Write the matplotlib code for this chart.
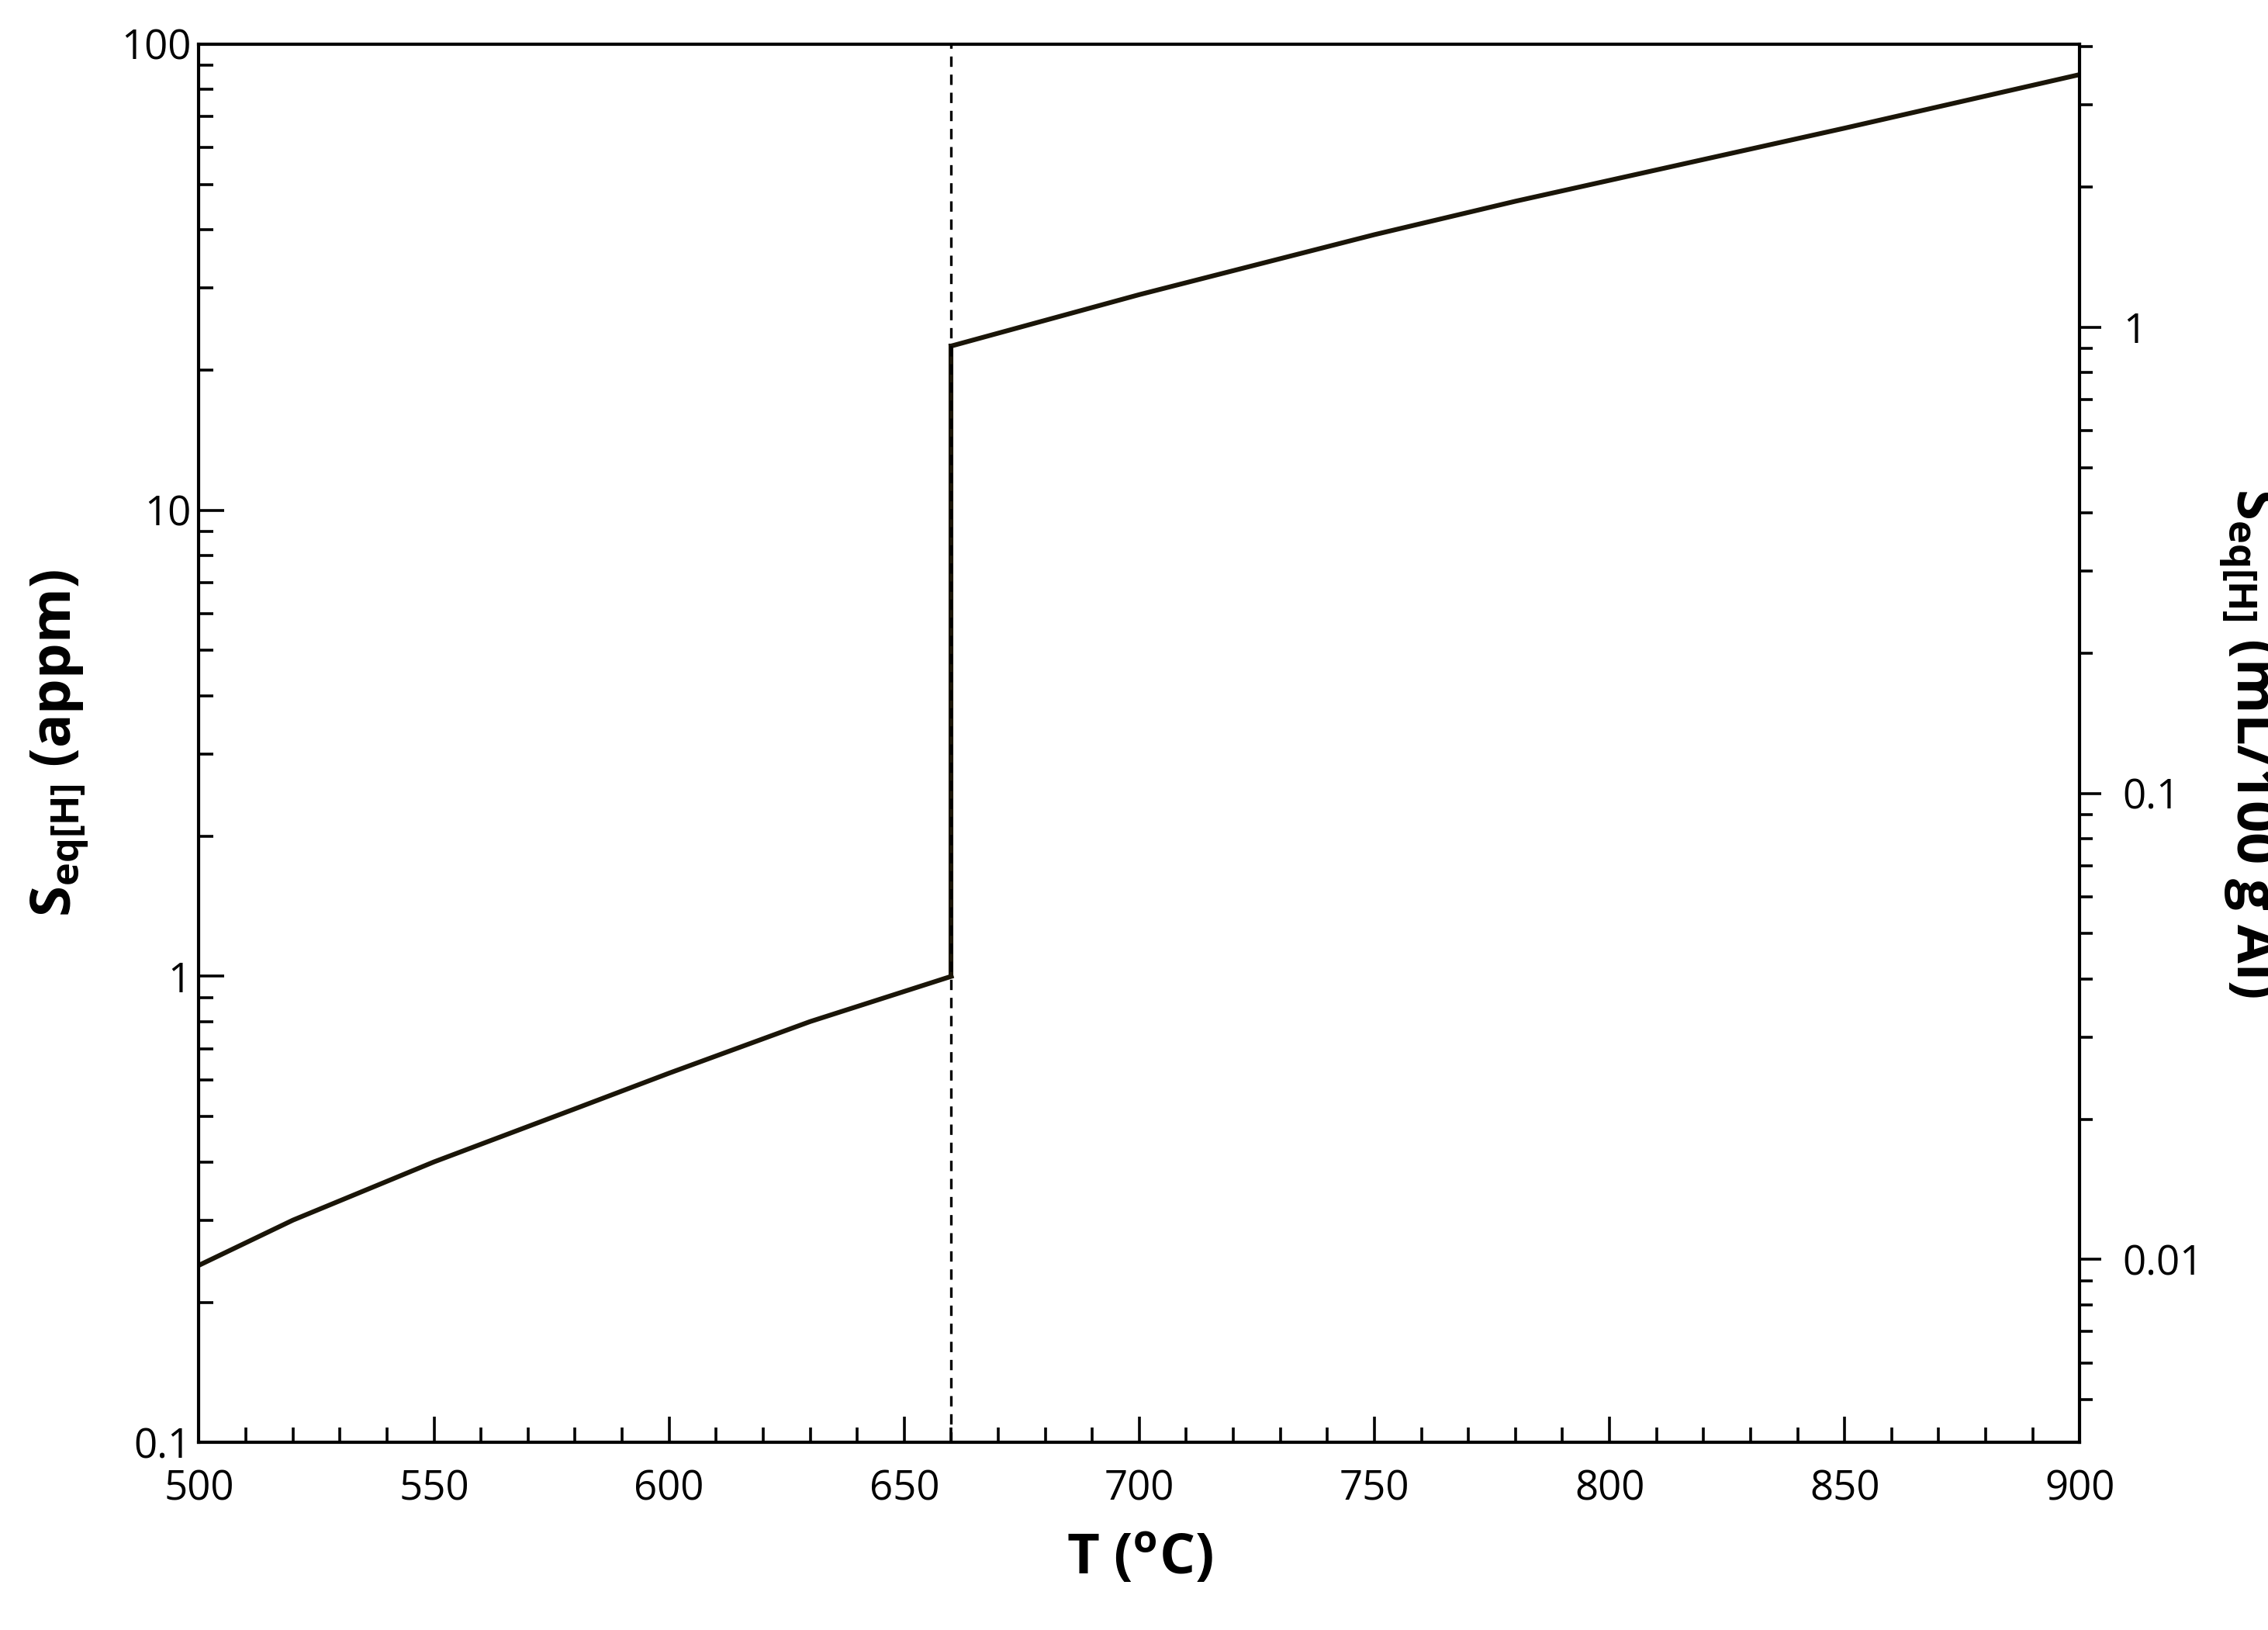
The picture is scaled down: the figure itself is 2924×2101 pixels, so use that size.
import matplotlib
matplotlib.use("Agg")
import matplotlib.pyplot as plt
from matplotlib.ticker import MultipleLocator, LogLocator, NullFormatter

plt.rcParams["font.family"] = ["Open Sans", "DejaVu Sans"]
plt.rcParams["mathtext.fontset"] = "custom"
plt.rcParams["mathtext.rm"] = "Open Sans:bold"

# Solid (aluminium) branch, appm
T_solid = [500, 520, 550, 580, 600, 630, 660]
S_solid = [0.24, 0.30, 0.40, 0.52, 0.62, 0.80, 1.0]
# Liquid branch, appm
T_liquid = [660, 700, 750, 780, 800, 850, 900]
S_liquid = [22.5, 29.0, 39.0, 46.0, 51.0, 66.0, 86.0]
T_melt = 660
appm_per_ml = 24.7  # right axis scaling

fig = plt.figure(figsize=(14.62, 10.505), dpi=200)
ax = fig.add_axes([0.0877, 0.115, 0.8293, 0.858])

line_color = "#1a1508"
ax.plot(T_solid, S_solid, color=line_color, lw=2.2)
ax.plot([T_melt, T_melt], [S_solid[-1], S_liquid[0]], color=line_color, lw=2.2)
ax.plot(T_liquid, S_liquid, color=line_color, lw=2.2)
ax.axvline(T_melt, color="black", ls=(0, (4, 3)), lw=1.2)

ax.set_yscale("log")
ax.set_xlim(500, 900)
ax.set_ylim(0.1, 100)
ax.set_yticks([0.1, 1, 10, 100])
ax.set_yticklabels(["0.1", "1", "10", "100"])
ax.yaxis.set_minor_locator(LogLocator(subs=range(2, 10)))
ax.yaxis.set_minor_formatter(NullFormatter())
ax.xaxis.set_major_locator(MultipleLocator(50))
ax.xaxis.set_minor_locator(MultipleLocator(10))
ax.tick_params(which="both", direction="in", labelsize=19, width=1.3)
ax.tick_params(which="major", length=12)
ax.tick_params(which="minor", length=7)
ax.tick_params(axis="x", pad=12)
for s in ax.spines.values():
    s.set_linewidth(1.5)

ax.set_xlabel(r"T ($\mathregular{^o}$C)", fontsize=26, fontweight="bold", labelpad=10)
ax.set_ylabel(r"S$_{\mathregular{eq[H]}}$ (appm)", fontsize=26, fontweight="bold", labelpad=14)

ax2 = ax.twinx()
ax2.set_yscale("log")
ax2.set_ylim(0.1 / appm_per_ml, 100 / appm_per_ml)
ax2.set_yticks([0.01, 0.1, 1])
ax2.set_yticklabels(["0.01", "0.1", "1"])
ax2.yaxis.set_minor_locator(LogLocator(subs=range(2, 10)))
ax2.yaxis.set_minor_formatter(NullFormatter())
ax2.tick_params(which="both", direction="out", labelsize=19, width=1.3, pad=10)
ax2.tick_params(which="major", length=10)
ax2.tick_params(which="minor", length=6)
ax2.set_ylabel(r"S$_{\mathregular{eq[H]}}$ (mL/100 g Al)", fontsize=26,
               fontweight="bold", rotation=270, labelpad=36)

fig.savefig("out.png", dpi=200)
